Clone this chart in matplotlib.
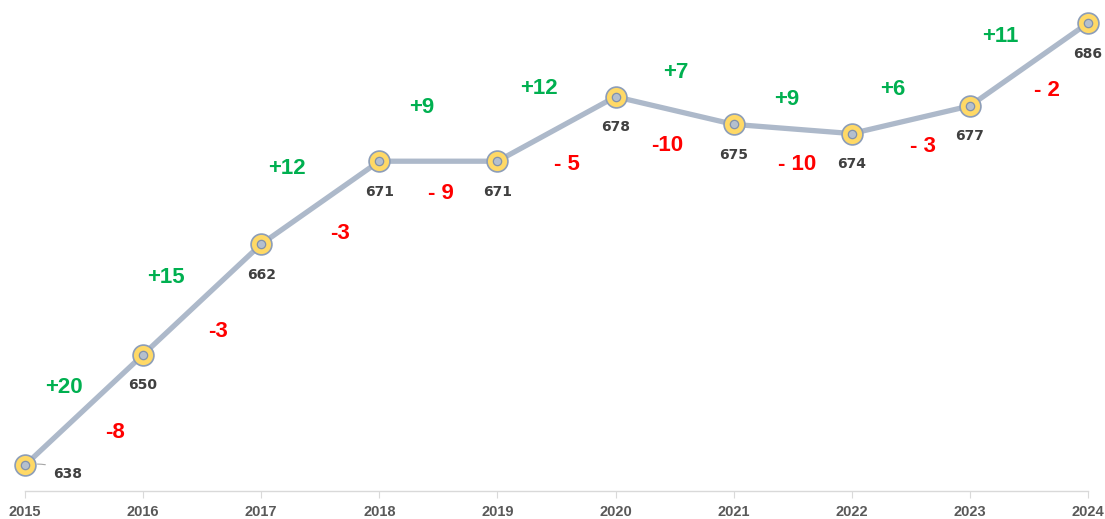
import matplotlib
matplotlib.use("Agg")
import matplotlib.pyplot as plt

years = [2015, 2016, 2017, 2018, 2019, 2020, 2021, 2022, 2023, 2024]
values = [638, 650, 662, 671, 671, 678, 675, 674, 677, 686]

gains = ["+20", "+15", "+12", "+9", "+12", "+7", "+9", "+6", "+11"]
losses = ["-8", "-3", "-3", "- 9", "- 5", "-10", "- 10", "- 3", "- 2"]

# label anchor positions (data units)
gain_x = [2015.33, 2016.19, 2017.22, 2018.36, 2019.35, 2020.51, 2021.45, 2022.35, 2023.26]
gain_y = [646.4, 658.4, 670.2, 676.8, 678.9, 680.6, 677.7, 678.8, 684.5]
loss_x = [2015.76, 2016.63, 2017.67, 2018.52, 2019.59, 2020.44, 2021.54, 2022.60, 2023.65]
loss_y = [641.6, 652.5, 663.1, 667.5, 670.6, 672.7, 670.6, 672.6, 678.7]

fig = plt.figure(figsize=(11.05, 5.19), dpi=100)
ax = fig.add_axes([25 / 1105, 28 / 519, (1088 - 25) / 1105, 491 / 519])

line_c = "#ADB9CA"
ax.plot(years, values, color=line_c, lw=3.8, solid_capstyle="round", zorder=2)
ax.plot(years, values, ls="none", marker="o", ms=15, mfc="#FFD966",
        mec="#8C9DB8", mew=1.2, zorder=3, clip_on=False)
ax.plot(years, values, ls="none", marker="o", ms=6.0, mfc="#B4BFCE",
        mec="#8191AB", mew=0.9, zorder=4, clip_on=False)

for i, (x, v) in enumerate(zip(years, values)):
    if i == 0:
        ax.annotate(str(v), xy=(x, v), xytext=(31, -6), textcoords="offset points",
                    ha="center", va="center", fontsize=10, fontweight="bold",
                    color="#404040", family="DejaVu Sans",
                    arrowprops=dict(arrowstyle="-", color="#A6A6A6", lw=0.8,
                                    shrinkA=4, shrinkB=9,
                                    connectionstyle="arc3,rad=0.2"))
    else:
        ax.annotate(str(v), xy=(x, v), xytext=(0, -22), textcoords="offset points",
                    ha="center", va="center", fontsize=10, fontweight="bold",
                    color="#404040", family="DejaVu Sans")

for t, x, y in zip(gains, gain_x, gain_y):
    ax.text(x, y, t, ha="center", va="center", fontsize=16, fontweight="bold",
            color="#00B050", family="Liberation Sans")
for t, x, y in zip(losses, loss_x, loss_y):
    ax.text(x, y, t, ha="center", va="center", fontsize=16, fontweight="bold",
            color="#FF0000", family="Liberation Sans")

ax.set_xlim(2015, 2024)
ax.set_ylim(635.2, 688.5)
ax.set_xticks(years)
ax.set_xticklabels([str(y) for y in years], fontsize=10.5, fontweight="bold",
                   color="#595959", family="Liberation Sans")
ax.set_yticks([])
for s in ["top", "right", "left"]:
    ax.spines[s].set_visible(False)
ax.spines["bottom"].set_color("#D9D9D9")
ax.spines["bottom"].set_linewidth(1.0)
ax.tick_params(axis="x", length=5, color="#D9D9D9", pad=5)
ax.patch.set_alpha(0)

fig.savefig("out.png", dpi=100)
